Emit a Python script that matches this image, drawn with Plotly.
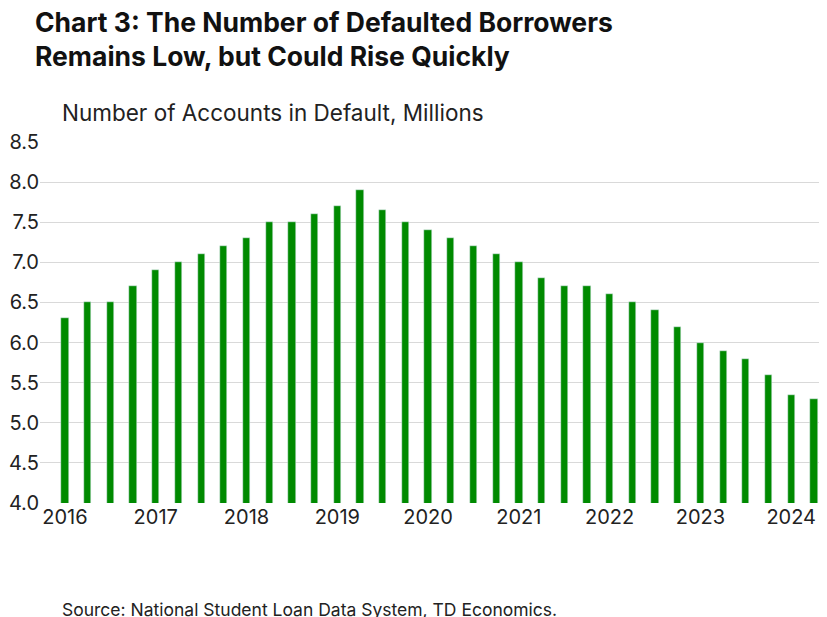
import plotly.graph_objects as go

values = [6.3, 6.5, 6.5, 6.7, 6.9, 7.0, 7.1, 7.2, 7.3, 7.5, 7.5, 7.6, 7.7, 7.9, 7.65, 7.5,
          7.4, 7.3, 7.2, 7.1, 7.0, 6.8, 6.7, 6.7, 6.6, 6.5, 6.4, 6.2, 6.0, 5.9, 5.8, 5.6,
          5.35, 5.3]
idx = list(range(len(values)))
tick_pos = [0, 4, 8, 12, 16, 20, 24, 28, 32]
tick_labels = ["2016", "2017", "2018", "2019", "2020", "2021", "2022", "2023", "2024"]

fig = go.Figure(go.Bar(x=idx, y=values, width=0.32, marker_color="#008a00"))
fig.update_layout(
    width=819, height=609, paper_bgcolor="white", plot_bgcolor="white",
    margin=dict(l=32, r=4, t=134, b=114), showlegend=False,
    font=dict(family="Inter, Lato, sans-serif", size=20, color="#222"),
    bargap=0,
)
fig.update_xaxes(range=[-1.1, 33.4], tickvals=tick_pos, ticktext=tick_labels, automargin=False,
                 showgrid=False, showline=False, ticks="", tickfont=dict(size=20))
fig.update_yaxes(range=[4.0, 8.5], dtick=0.5, tickformat=".1f", showgrid=True, automargin=False,
                 gridcolor="#d9d9d9", zeroline=False, ticks="", tickfont=dict(size=20))
fig.add_annotation(text="<b>Chart 3: The Number of Defaulted Borrowers<br>Remains Low, but Could Rise Quickly</b>",
                   xref="paper", yref="paper", x=0, y=1.0, xanchor="left", yanchor="bottom",
                   xshift=-7, yshift=68, align="left", showarrow=False, font=dict(size=26.5, color="#111"))
fig.add_annotation(text="Number of Accounts in Default, Millions", xref="paper", yref="paper",
                   x=0, y=1.0, xanchor="left", yanchor="bottom", xshift=20, yshift=14, showarrow=False,
                   font=dict(size=22.5))
fig.add_annotation(text="Source: National Student Loan Data System, TD Economics.", xref="paper", yref="paper",
                   x=0, y=0, xanchor="left", yanchor="top", xshift=20, yshift=-94, showarrow=False,
                   font=dict(size=17.5))
fig.write_html("out.html")
